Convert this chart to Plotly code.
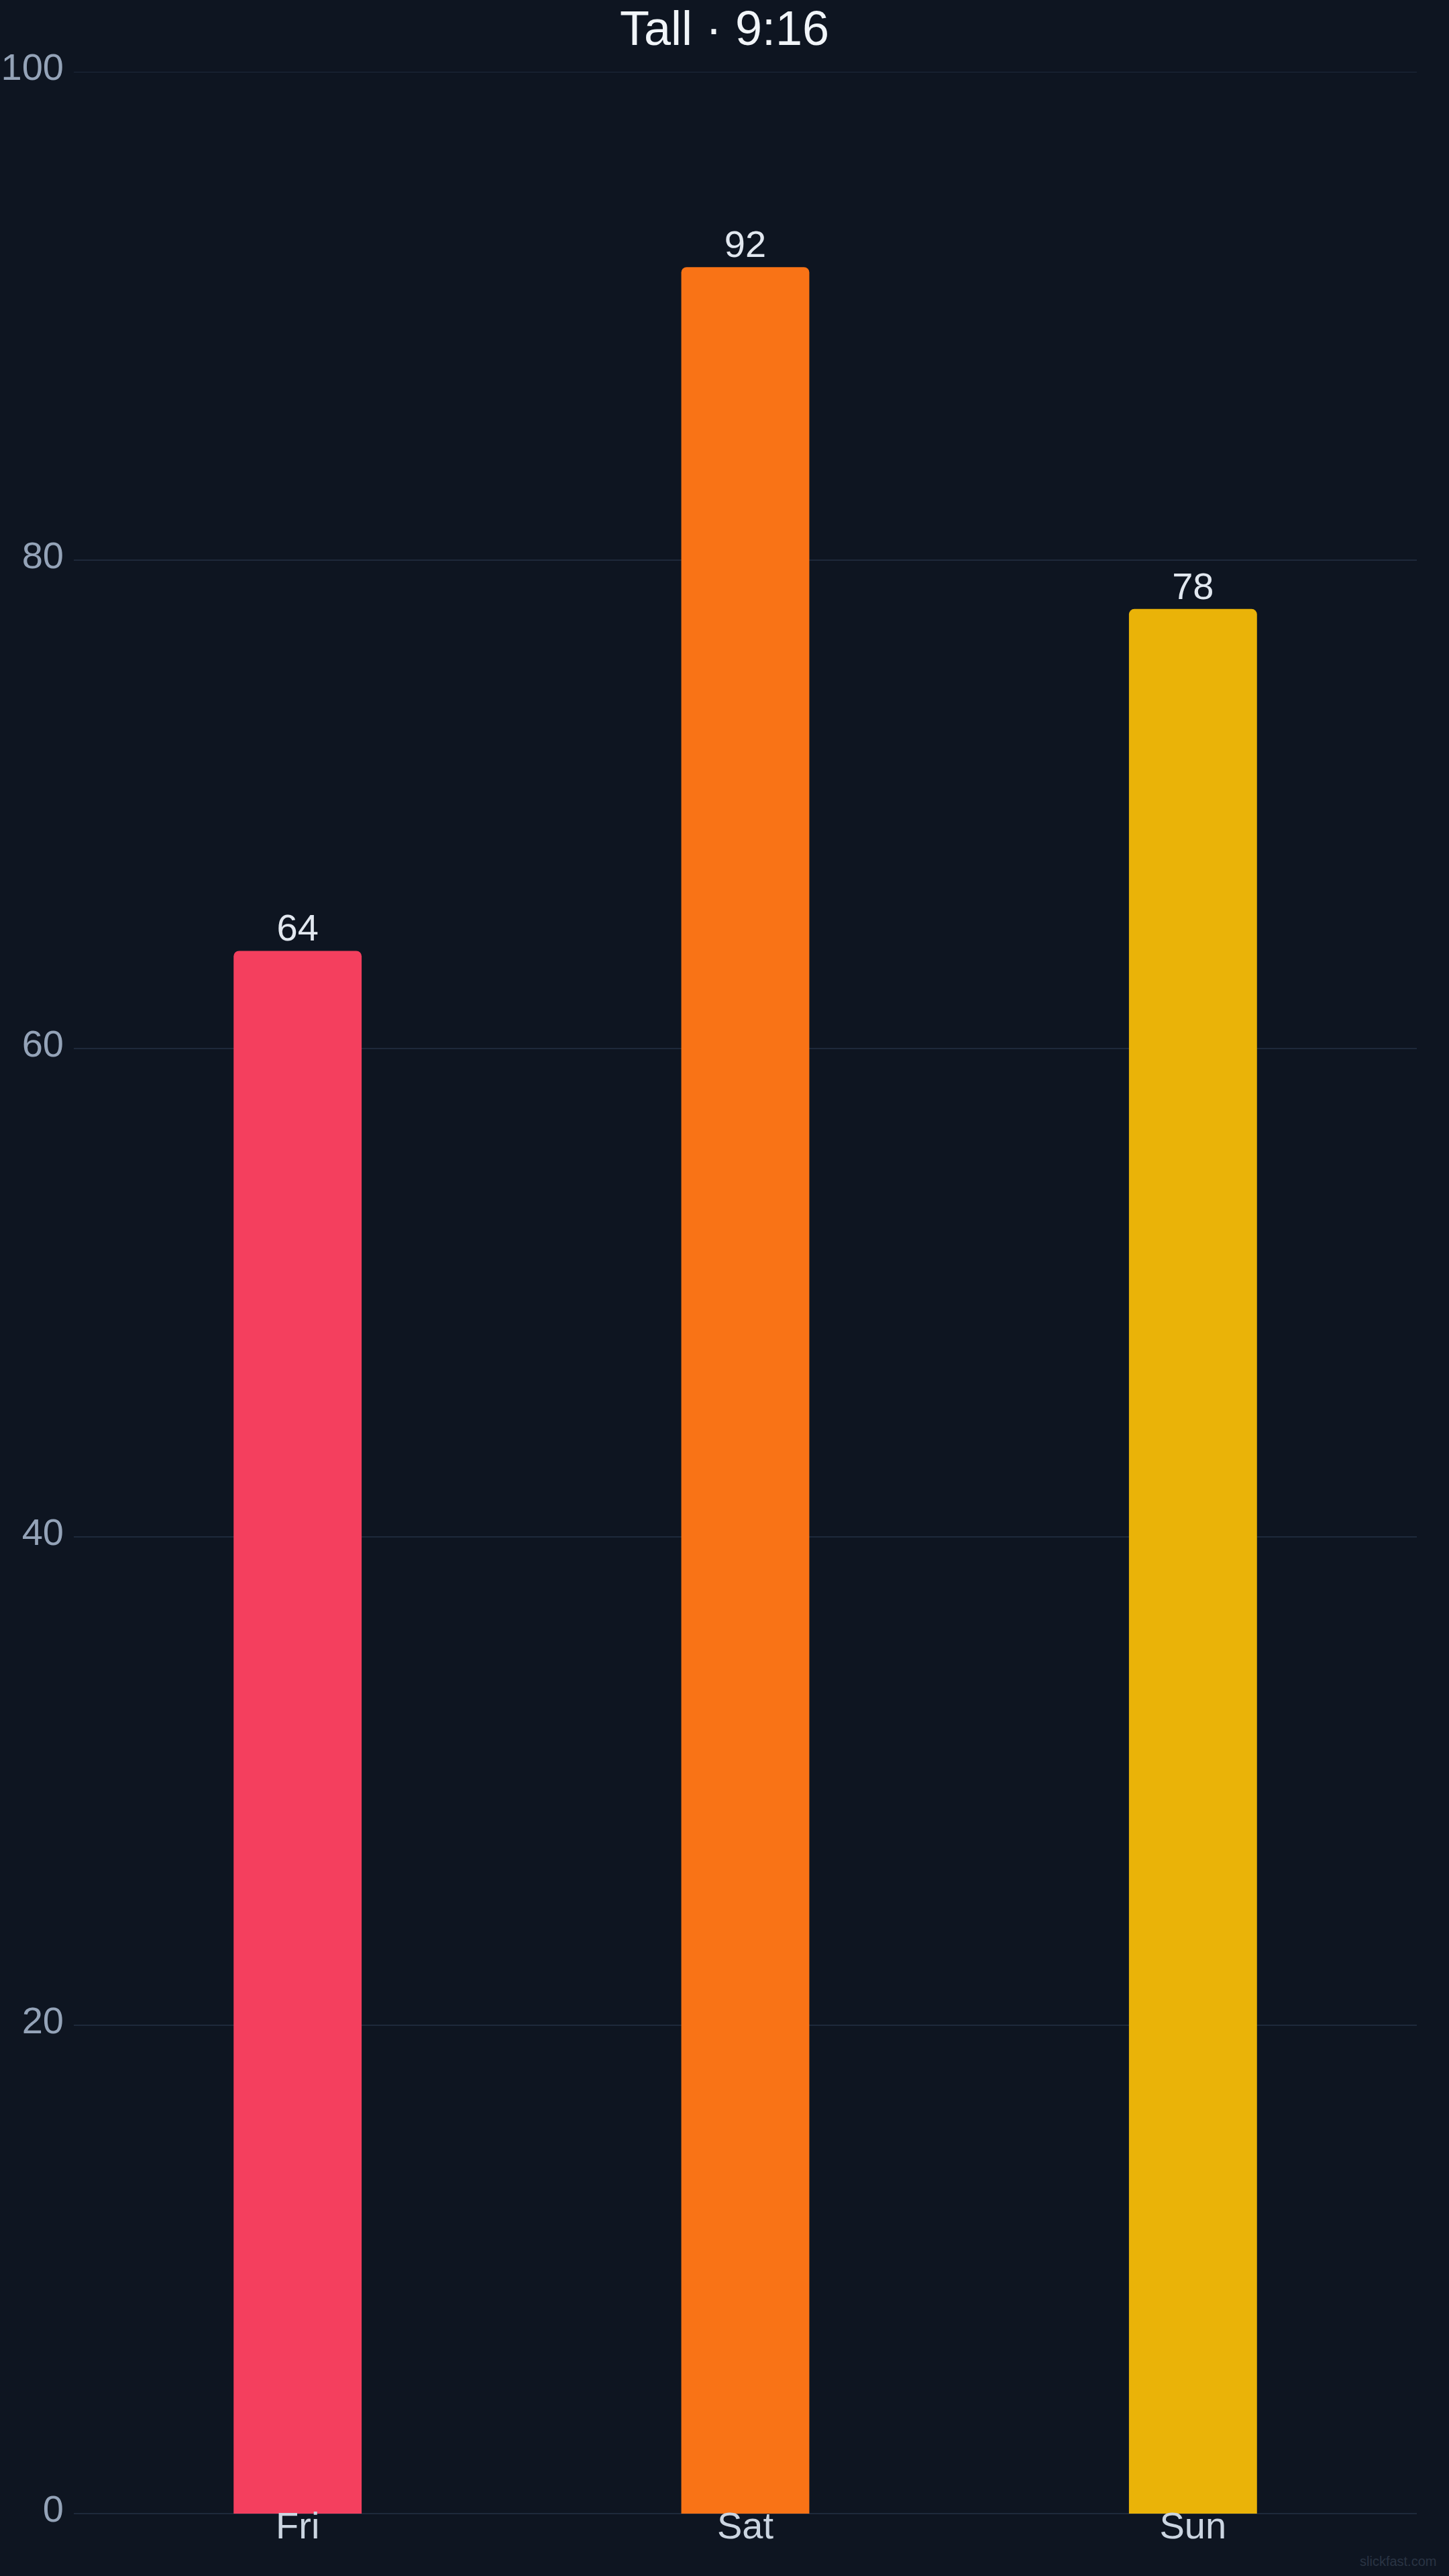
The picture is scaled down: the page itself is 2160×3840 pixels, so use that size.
import plotly.graph_objects as go

categories = ["Fri", "Sat", "Sun"]
values = [64, 92, 78]
bar_colors = ["#F43F5E", "#F97316", "#EAB308"]
y_ticks = [0, 20, 40, 60, 80, 100]
title_text = "Tall · 9:16"
watermark = "slickfast.com"

BG = "#0E1521"
GRID = "#1E293B"
FONT = "Liberation Sans, Arial, Helvetica, sans-serif"

fig = go.Figure()
fig.add_trace(go.Bar(
    x=categories,
    y=values,
    marker=dict(color=bar_colors, line=dict(width=0), cornerradius=8),
    text=[str(v) for v in values],
    textposition="outside",
    textfont=dict(family=FONT, size=56, color="#E2E8F0"),
    cliponaxis=False,
    hoverinfo="skip",
))

fig.update_layout(
    width=2160,
    height=3840,
    paper_bgcolor=BG,
    plot_bgcolor=BG,
    margin=dict(l=110, r=48, t=107, b=93, autoexpand=False),
    bargap=0.714,
    showlegend=False,
    font=dict(family=FONT),
    title=dict(
        text=title_text,
        x=0.5, xanchor="center",
        y=1 - 42 / 3840, yanchor="middle",
        yref="container",
        font=dict(family=FONT, size=72, color="#F1F5F9"),
    ),
    xaxis=dict(
        showgrid=False,
        showline=False,
        zeroline=False,
        ticks="",
        automargin=False,
        ticklabelstandoff=-20,
        tickfont=dict(family=FONT, size=56, color="#CBD5E1"),
    ),
    yaxis=dict(
        range=[0, max(y_ticks)],
        tickvals=y_ticks,
        showgrid=True,
        gridcolor=GRID,
        gridwidth=2,
        zeroline=True,
        zerolinecolor=GRID,
        zerolinewidth=2,
        showline=False,
        ticks="",
        automargin=False,
        ticklabelstandoff=14,
        ticklabelshift=-8,
        tickfont=dict(family=FONT, size=56, color="#94A3B8"),
    ),
    shapes=[dict(
        type="line", xref="paper", yref="y",
        x0=0, x1=1, y0=max(y_ticks), y1=max(y_ticks),
        line=dict(color=GRID, width=2),
        layer="below",
    )],
    annotations=[dict(
        text=watermark,
        xref="paper", yref="paper",
        x=1 + 31 / 2002, xanchor="right",
        y=-(3818 - 3747) / 3640, yanchor="middle",
        showarrow=False,
        font=dict(family=FONT, size=20, color="#2A3444"),
    )],
)

fig.write_html("out.html")
